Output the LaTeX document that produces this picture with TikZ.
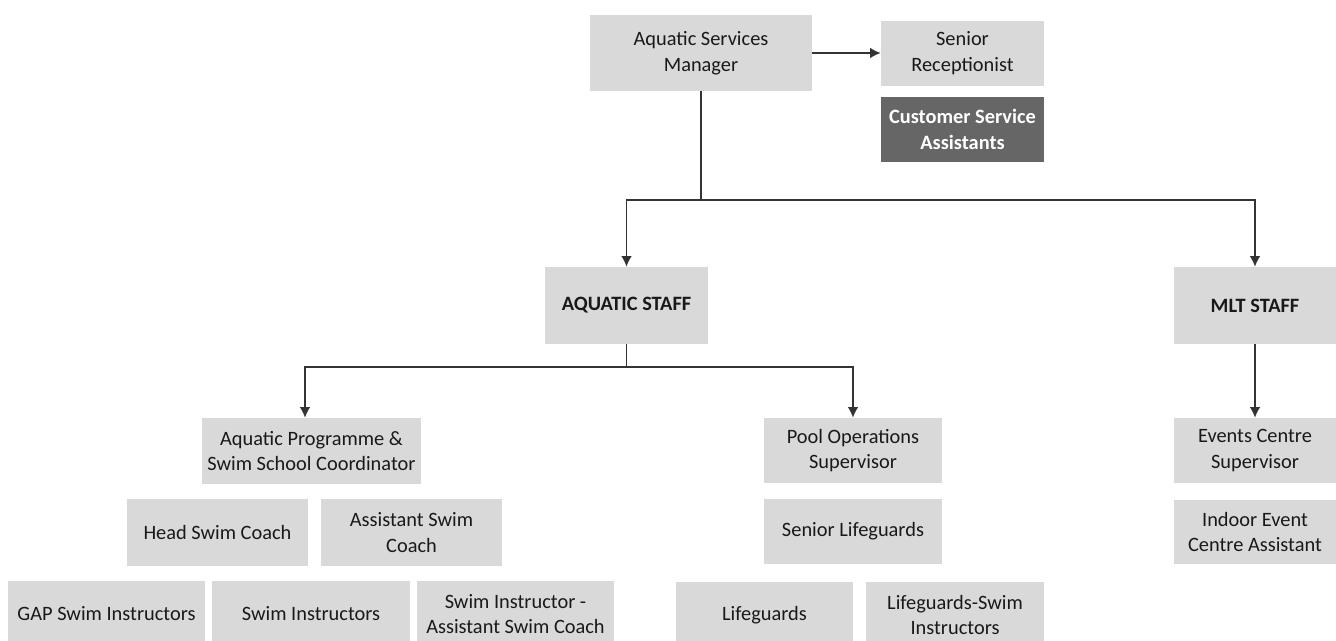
\documentclass[tikz,border=0pt]{standalone}
\usepackage{fontspec}
\setmainfont{Carlito}
\usepackage{xcolor}
\usetikzlibrary{arrows.meta,positioning,calc}

\definecolor{boxgray}{HTML}{D9D9D9}
\definecolor{darkbox}{HTML}{666666}
\definecolor{linegray}{HTML}{333333}

\begin{document}
\begin{tikzpicture}[
    x=0.02cm, y=-0.02cm,
    box/.style={rectangle, fill=boxgray, align=center, inner sep=1pt,
        text=black!90, font=\fontsize{11.6}{14.7}\selectfont},
    head/.style={box, font=\fontsize{11.6}{14.7}\selectfont\bfseries},
    dark/.style={box, fill=darkbox, text=white, font=\fontsize{11.6}{14.7}\selectfont\bfseries},
    link/.style={draw=linegray, line width=0.75pt},
    arr/.style={link, -{Latex[length=6pt, width=6pt]}}
]
\useasboundingbox (0,0) rectangle (1336,641);
\clip (0,0) rectangle (1336,641);

% Top level: manager and front desk
\node[box, minimum width=4.44cm, minimum height=1.52cm] (mgr) at (701,53) {Aquatic Services\\Manager};
\node[box, minimum width=3.26cm, minimum height=1.3cm] (recep) at (962.5,53.5) {Senior\\Receptionist};
\node[dark, minimum width=3.26cm, minimum height=1.3cm] (csa) at (962.5,129.5) {Customer Service\\Assistants};

% Staff groups
\node[head, minimum width=3.26cm, minimum height=1.54cm] (aqstaff) at (626.5,305.5) {AQUATIC STAFF};
\node[head, minimum width=3.24cm, minimum height=1.54cm] (mlt) at (1255,305.5) {MLT STAFF};

% Aquatic programme branch
\node[box, minimum width=4.38cm, minimum height=1.32cm] (coord) at (311.5,451) {Aquatic Programme \&\\Swim School Coordinator};
\node[box, minimum width=3.62cm, minimum height=1.34cm] (headcoach) at (217.5,532.5) {Head Swim Coach};
\node[box, minimum width=3.62cm, minimum height=1.34cm] (asstcoach) at (411.5,532.5) {Assistant Swim\\Coach};
\node[box, minimum width=3.94cm, minimum height=1.32cm] (gapinst) at (106.5,614) {GAP Swim Instructors};
\node[box, minimum width=3.96cm, minimum height=1.32cm] (swiminst) at (311,614) {Swim Instructors};
\node[box, minimum width=3.94cm, minimum height=1.32cm] (instcoach) at (515.5,614) {Swim Instructor -\\Assistant Swim Coach};

% Pool operations branch
\node[box, minimum width=3.56cm, minimum height=1.3cm] (poolops) at (853,450.5) {Pool Operations\\Supervisor};
\node[box, minimum width=3.56cm, minimum height=1.3cm] (senlg) at (853,531.5) {Senior Lifeguards};
\node[box, minimum width=3.54cm, minimum height=1.32cm] (lifeguards) at (764.5,615) {Lifeguards};
\node[box, minimum width=3.56cm, minimum height=1.32cm] (lgswim) at (955,615) {Lifeguards-Swim\\Instructors};

% Events branch
\node[box, minimum width=3.24cm, minimum height=1.3cm] (ecsup) at (1255,450.5) {Events Centre\\Supervisor};
\node[box, minimum width=3.24cm, minimum height=1.3cm] (ieca) at (1255,532) {Indoor Event\\Centre Assistant};

% Connectors
\coordinate (split1) at (701,200);
\coordinate (split2) at (626.5,367);
\draw[arr] (mgr.east) -- (mgr.east -| recep.west);
\draw[link] (mgr.south) -- (split1);
\draw[arr] (split1) -| (aqstaff.north);
\draw[arr] (split1) -| (mlt.north);
\draw[link] (aqstaff.south) -- (split2);
\draw[arr] (split2) -| ([xshift=-0.13cm]coord.north);
\draw[arr] (split2) -| (poolops.north);
\draw[arr] (mlt.south) -- (ecsup.north);

\end{tikzpicture}
\end{document}
